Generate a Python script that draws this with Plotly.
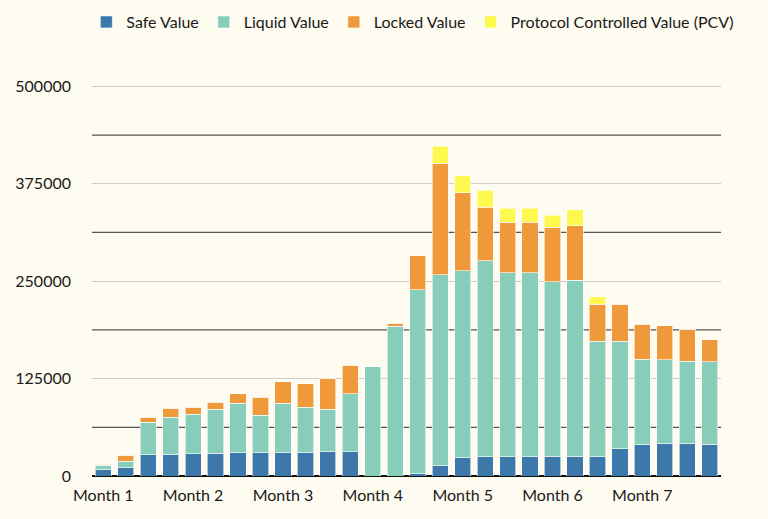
import plotly.graph_objects as go

categories = [f"P{i}" for i in range(28)]
tick_positions = ["P0", "P4", "P8", "P12", "P16", "P20", "P24"]
tick_labels = ["Month 1", "Month 2", "Month 3", "Month 4", "Month 5", "Month 6", "Month 7"]

safe_value = [8600, 10300, 27300, 28200, 28600, 29100, 29900, 29900, 29900, 30800, 31200, 31200,
              0, 0, 3000, 13200, 23500, 24400, 24400, 24400, 25200, 25200, 24800, 35000,
              40200, 42300, 42300, 41000]
liquid_value = [5100, 8500, 41500, 47000, 50900, 56400, 63700, 47900, 63300, 57200, 54300, 74300,
                140000, 192300, 236300, 244900, 239800, 252100, 236300, 236300, 223900, 226100, 148300, 138100,
                109400, 106800, 105100, 105500]
locked_value = [1700, 7700, 6400, 11600, 9000, 9400, 11900, 23500, 27700, 30400, 39700, 36400,
                0, 3400, 43200, 143200, 100400, 68400, 64900, 64900, 70100, 69600, 47000, 47400,
                45300, 43600, 40200, 28200]
pcv_value = [0, 0, 0, 0, 0, 0, 0, 0, 0, 0, 0, 0,
             0, 0, 0, 21800, 21300, 21800, 18000, 18000, 15400, 20500, 9800, 0,
             0, 0, 0, 0]

series = [
    ("Safe Value", safe_value, "#3d78ab"),
    ("Liquid Value", liquid_value, "#88cdb9"),
    ("Locked Value", locked_value, "#f0993a"),
    ("Protocol Controlled Value (PCV)", pcv_value, "#fdf94e"),
]

FONT = "Lato, 'Noto Sans', sans-serif"
BG = "#fefbf0"

fig = go.Figure()
for name, vals, color in series:
    fig.add_trace(go.Bar(
        name=name, x=categories, y=vals,
        marker=dict(color=color, line=dict(color="rgba(255,255,255,0.6)", width=1)),
        width=0.72,
    ))

# darker intermediate gridlines
for v in [62500, 187500, 312500, 437500]:
    fig.add_shape(type="line", xref="paper", x0=0, x1=1, yref="y", y0=v, y1=v,
                  line=dict(color="#555555", width=1.3), layer="below")

fig.update_layout(
    barmode="stack",
    width=768, height=519,
    paper_bgcolor=BG, plot_bgcolor=BG,
    margin=dict(l=92, r=47, t=84, b=43, autoexpand=False),
    font=dict(family=FONT, size=16, color="#1a1a1a"),
    showlegend=True,
    legend=dict(orientation="h", x=-0.009, xref="paper", xanchor="left",
                y=1.2015, yref="paper", yanchor="top",
                font=dict(size=16), traceorder="normal", bgcolor="rgba(0,0,0,0)",
                itemwidth=30),
    xaxis=dict(type="category", categoryorder="array", categoryarray=categories,
               tickmode="array", tickvals=tick_positions, ticktext=tick_labels,
               range=[-0.5, 27.5], showgrid=False, ticks="", showline=False, zeroline=False,
               ticklabelstandoff=8, tickfont=dict(size=16)),
    yaxis=dict(range=[0, 503000], tickmode="array", tickvals=[0, 125000, 250000, 375000, 500000],
               ticktext=["0", "125000", "250000", "375000", "500000"],
               showgrid=True, gridcolor="#cccccc", gridwidth=1, zeroline=True, zerolinecolor="#111111",
               zerolinewidth=2, ticks="", ticklabelstandoff=20, tickfont=dict(size=16)),
)

post = ("document.body.style.margin='0';document.body.style.padding='0';"
        "document.body.style.background='" + BG + "';"
        "document.documentElement.style.background='" + BG + "';")

fig.write_html("out.html", post_script=post, config={"displayModeBar": False})
